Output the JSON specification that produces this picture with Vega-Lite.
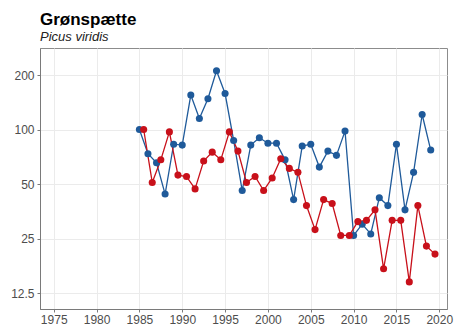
{
  "$schema": "https://vega.github.io/schema/vega-lite/v6.json",
  "width": 407,
  "height": 261,
  "autosize": {"type": "none"},
  "padding": {"left": 40, "top": 48, "right": 11, "bottom": 22},
  "background": "white",
  "config": {
    "font": "Liberation Sans",
    "view": {"stroke": "#8c8c8c", "strokeWidth": 1},
    "axis": {
      "labelFont": "Liberation Sans",
      "labelFontSize": 12,
      "labelColor": "#4d4d4d",
      "domainColor": "#7a7a7a",
      "tickColor": "#7a7a7a",
      "tickSize": 3,
      "gridColor": "#ebebeb",
      "gridWidth": 1,
      "title": null
    }
  },
  "title": {
    "text": "Grønspætte",
    "subtitle": "Picus viridis",
    "anchor": "start",
    "frame": "group",
    "font": "Liberation Sans",
    "fontSize": 17,
    "fontWeight": "bold",
    "color": "#000000",
    "subtitleFont": "Liberation Sans",
    "subtitleFontSize": 13,
    "subtitleFontStyle": "italic",
    "subtitleColor": "#222222",
    "subtitlePadding": 2,
    "offset": 3
  },
  "data": {
    "values": [
      {"year": 1985, "value": 100, "series": "Ynglefugle"},
      {"year": 1986, "value": 73.5, "series": "Ynglefugle"},
      {"year": 1987, "value": 65.5, "series": "Ynglefugle"},
      {"year": 1988, "value": 44, "series": "Ynglefugle"},
      {"year": 1989, "value": 83, "series": "Ynglefugle"},
      {"year": 1990, "value": 82, "series": "Ynglefugle"},
      {"year": 1991, "value": 155, "series": "Ynglefugle"},
      {"year": 1992, "value": 115, "series": "Ynglefugle"},
      {"year": 1993, "value": 148, "series": "Ynglefugle"},
      {"year": 1994, "value": 211, "series": "Ynglefugle"},
      {"year": 1995, "value": 158, "series": "Ynglefugle"},
      {"year": 1996, "value": 87, "series": "Ynglefugle"},
      {"year": 1997, "value": 46, "series": "Ynglefugle"},
      {"year": 1998, "value": 82, "series": "Ynglefugle"},
      {"year": 1999, "value": 90, "series": "Ynglefugle"},
      {"year": 2000, "value": 84, "series": "Ynglefugle"},
      {"year": 2001, "value": 84, "series": "Ynglefugle"},
      {"year": 2002, "value": 68, "series": "Ynglefugle"},
      {"year": 2003, "value": 41, "series": "Ynglefugle"},
      {"year": 2004, "value": 81, "series": "Ynglefugle"},
      {"year": 2005, "value": 83, "series": "Ynglefugle"},
      {"year": 2006, "value": 62, "series": "Ynglefugle"},
      {"year": 2007, "value": 76, "series": "Ynglefugle"},
      {"year": 2008, "value": 72, "series": "Ynglefugle"},
      {"year": 2009, "value": 98, "series": "Ynglefugle"},
      {"year": 2010, "value": 26, "series": "Ynglefugle"},
      {"year": 2011, "value": 30, "series": "Ynglefugle"},
      {"year": 2012, "value": 26.5, "series": "Ynglefugle"},
      {"year": 2013, "value": 42, "series": "Ynglefugle"},
      {"year": 2014, "value": 38, "series": "Ynglefugle"},
      {"year": 2015, "value": 83, "series": "Ynglefugle"},
      {"year": 2016, "value": 36, "series": "Ynglefugle"},
      {"year": 2017, "value": 58, "series": "Ynglefugle"},
      {"year": 2018, "value": 121, "series": "Ynglefugle"},
      {"year": 2019, "value": 77, "series": "Ynglefugle"},
      {"year": 1985.5, "value": 100, "series": "Vinter"},
      {"year": 1986.5, "value": 51, "series": "Vinter"},
      {"year": 1987.5, "value": 68, "series": "Vinter"},
      {"year": 1988.5, "value": 97, "series": "Vinter"},
      {"year": 1989.5, "value": 56, "series": "Vinter"},
      {"year": 1990.5, "value": 55, "series": "Vinter"},
      {"year": 1991.5, "value": 47, "series": "Vinter"},
      {"year": 1992.5, "value": 67, "series": "Vinter"},
      {"year": 1993.5, "value": 75, "series": "Vinter"},
      {"year": 1994.5, "value": 68, "series": "Vinter"},
      {"year": 1995.5, "value": 97, "series": "Vinter"},
      {"year": 1996.5, "value": 76, "series": "Vinter"},
      {"year": 1997.5, "value": 51, "series": "Vinter"},
      {"year": 1998.5, "value": 55, "series": "Vinter"},
      {"year": 1999.5, "value": 46, "series": "Vinter"},
      {"year": 2000.5, "value": 54, "series": "Vinter"},
      {"year": 2001.5, "value": 69, "series": "Vinter"},
      {"year": 2002.5, "value": 61, "series": "Vinter"},
      {"year": 2003.5, "value": 58, "series": "Vinter"},
      {"year": 2004.5, "value": 38, "series": "Vinter"},
      {"year": 2005.5, "value": 28, "series": "Vinter"},
      {"year": 2006.5, "value": 41, "series": "Vinter"},
      {"year": 2007.5, "value": 39, "series": "Vinter"},
      {"year": 2008.5, "value": 26, "series": "Vinter"},
      {"year": 2009.5, "value": 26, "series": "Vinter"},
      {"year": 2010.5, "value": 31, "series": "Vinter"},
      {"year": 2011.5, "value": 31.5, "series": "Vinter"},
      {"year": 2012.5, "value": 36, "series": "Vinter"},
      {"year": 2013.5, "value": 17, "series": "Vinter"},
      {"year": 2014.5, "value": 31.5, "series": "Vinter"},
      {"year": 2015.5, "value": 31.5, "series": "Vinter"},
      {"year": 2016.5, "value": 14.4, "series": "Vinter"},
      {"year": 2017.5, "value": 38, "series": "Vinter"},
      {"year": 2018.5, "value": 22.7, "series": "Vinter"},
      {"year": 2019.5, "value": 20.5, "series": "Vinter"}
    ]
  },
  "encoding": {
    "x": {
      "field": "year",
      "type": "quantitative",
      "scale": {"domain": [1973.4, 2020.9], "nice": false, "zero": false},
      "axis": {"values": [1975, 1980, 1985, 1990, 1995, 2000, 2005, 2010, 2015, 2020], "format": "d", "labelPadding": 2}
    },
    "y": {
      "field": "value",
      "type": "quantitative",
      "scale": {"type": "log", "domain": [10.2, 282], "nice": false},
      "axis": {"values": [12.5, 25, 50, 100, 200], "format": "~g", "labelPadding": 3}
    },
    "color": {
      "field": "series",
      "type": "nominal",
      "scale": {"domain": ["Ynglefugle", "Vinter"], "range": ["#1f5a9a", "#c8101a"]},
      "legend": null
    }
  },
  "layer": [
    {"mark": {"type": "line", "strokeWidth": 1.3}},
    {"mark": {"type": "point", "filled": true, "size": 50, "opacity": 1}}
  ]
}
